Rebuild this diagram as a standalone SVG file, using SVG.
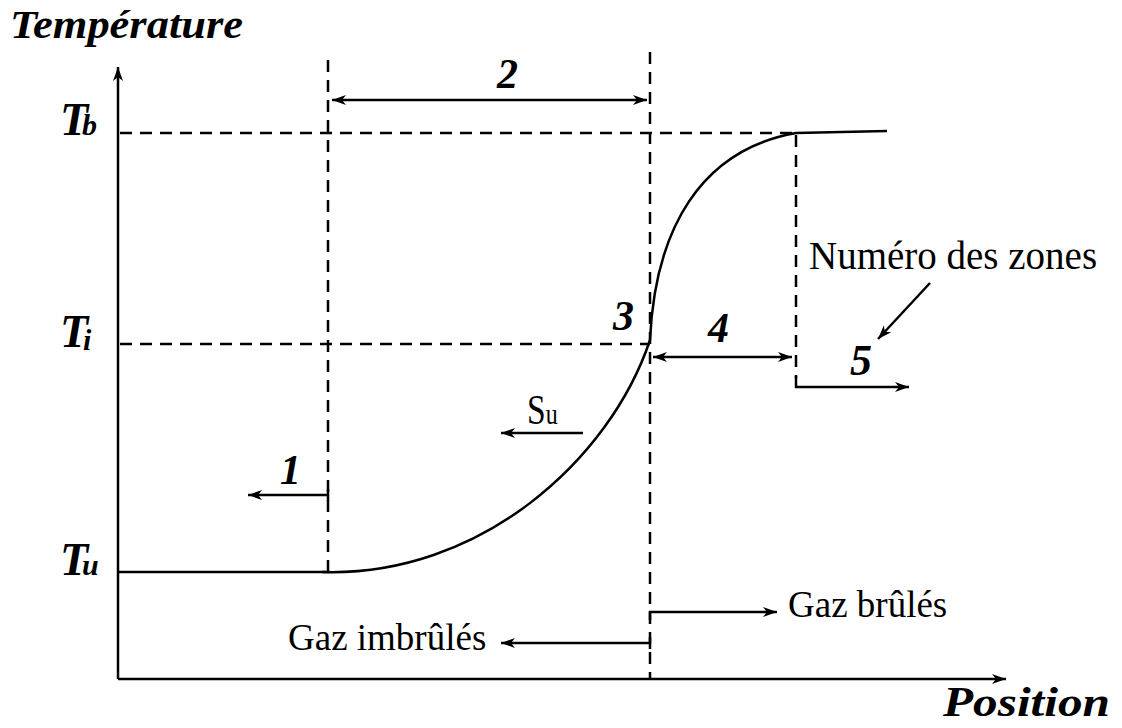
<svg xmlns="http://www.w3.org/2000/svg" width="1122" height="728" viewBox="0 0 1122 728">
<style>
.dash{fill:none;stroke:#000;stroke-width:2.5;stroke-dasharray:12 8}
.ln{fill:none;stroke:#000;stroke-width:2.5}
.ar{fill:none;stroke:#000;stroke-width:2.5;marker-end:url(#ah)}
.dar{fill:none;stroke:#000;stroke-width:2.5;marker-end:url(#ah);marker-start:url(#ah)}
.bi{font-family:"Liberation Serif","Times New Roman",serif;font-weight:bold;font-style:italic;fill:#000}
.rg{font-family:"Liberation Serif","Times New Roman",serif;fill:#000}
</style>
<defs>
<marker id="ah" markerUnits="userSpaceOnUse" markerWidth="16" markerHeight="12" refX="14" refY="5" orient="auto-start-reverse" overflow="visible">
<path d="M0,0 L14,5 L0,10 L4,5 z" fill="#000"/>
</marker>
</defs>
<rect width="1122" height="728" fill="#fff"/>
<g id="axes">
<path class="ar" d="M118,679 V67"/>
<path class="ar" d="M118,679 H1006"/>
<text class="bi" x="10" y="38" font-size="40" textLength="233" lengthAdjust="spacingAndGlyphs">Température</text>
<text class="bi" x="943" y="716" font-size="42" textLength="167" lengthAdjust="spacingAndGlyphs">Position</text>
</g>
<g id="levels">
<path class="dash" d="M120,133 H792"/>
<path class="dash" d="M120,344 H650"/>
<path class="ln" d="M118,572 H330"/>
<text class="bi" x="60" y="135" font-size="46">T<tspan dx="-6" font-size="30">b</tspan></text>
<text class="bi" x="60" y="347" font-size="46">T<tspan dx="-5" dy="3" font-size="30">i</tspan></text>
<text class="bi" x="60" y="575" font-size="46">T<tspan dx="-6" font-size="30">u</tspan></text>
</g>
<g id="boundaries">
<path class="dash" d="M328,60 V572"/>
<path class="dash" d="M650,52 V679"/>
<path class="dash" d="M796,135 V378"/>
</g>
<g id="curve">
<path class="ln" stroke-width="2.8" d="M322,572 C480,577 610,460 650,340 C655,230 700,150 796,133 L887,131"/>
</g>
<g id="connectors">
<path class="ar" d="M328,495 H248"/>
<path class="ln" d="M328,489 V501"/>
<path class="dar" d="M332,100 H647"/>
<path class="dar" d="M653,357 H792"/>
<path class="ar" d="M796,376 V387 H909"/>
<path class="ar" d="M930,283 L878,339"/>
<path class="ar" d="M583,433 H501"/>
<path class="ar" d="M650,620 V612 H777"/>
<path class="ar" d="M650,643 H501"/>
<path class="ln" d="M650,637 V649"/>
</g>
<g id="zone-labels">
<text class="bi" x="280" y="484" font-size="42">1</text>
<text class="bi" x="497" y="88" font-size="42">2</text>
<text class="bi" x="613" y="330" font-size="42">3</text>
<text class="bi" x="708" y="342" font-size="42">4</text>
<text class="bi" x="850" y="375" font-size="44">5</text>
</g>
<g id="text-labels">
<text class="rg" transform="translate(527,424) scale(0.8,1)" font-size="42">S<tspan font-size="30">u</tspan></text>
<text class="rg" x="809" y="269" font-size="39">Numéro des zones</text>
<text class="rg" x="788" y="617" font-size="37">Gaz brûlés</text>
<text class="rg" x="288" y="650" font-size="37">Gaz imbrûlés</text>
</g>
</svg>
